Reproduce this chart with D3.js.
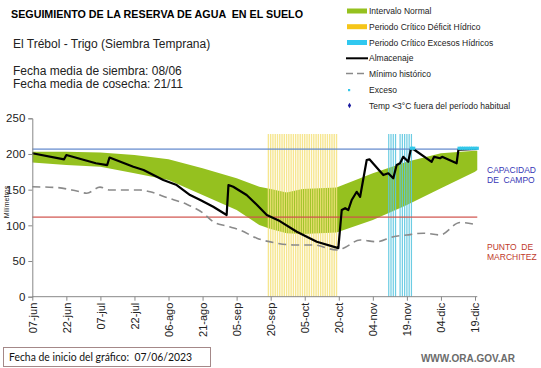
<!DOCTYPE html>
<html>
<head>
<meta charset="utf-8">
<script src="https://cdn.jsdelivr.net/npm/d3@7"></script>
<style>
  body { margin: 0; background: #fff; }
  svg { display: block; font-family: "Liberation Sans", Arial, sans-serif; }
  text { white-space: pre; }
</style>
</head>
<body>
<div id="chart"></div>
<script>
const width = 541;
const height = 368;

// days counted from 07/06/2023
const tickDays = [0, 15, 30, 45, 60, 75, 90, 105, 120, 135, 150, 165, 180, 195];
const tickLabels = ["07-jun", "22-jun", "07-jul", "22-jul", "06-ago", "21-ago", "05-sep",
  "20-sep", "05-oct", "20-oct", "04-nov", "19-nov", "04-dic", "19-dic"];

const normalDays  = [0, 15, 30, 45, 60, 75, 90, 100, 105, 112, 119, 134, 150, 165, 180, 195, 196];
const normalUpper = [203, 203, 202, 198.5, 192.5, 180, 166, 154, 151, 146, 151, 153, 173, 189, 201, 204.5, 204.5];
const normalLower = [188, 184.5, 182, 173, 163.5, 142.5, 121.5, 100.5, 95, 89, 88, 90, 107.5, 128.5, 152, 175, 177.5];

const storageDays = [0, 14, 15, 28, 33, 34, 44.5, 49, 57.7, 63.6, 69.5, 74, 79.7, 85.6, 86.4, 88.5,
  94.4, 99, 103.3, 109, 116.5, 125.3, 134.8, 136.3, 137.8, 139.2, 140.7, 142.9, 144.4, 147.3, 148.5,
  154.6, 156.8, 159, 160.5, 162, 163.4, 165.6, 166.7, 167.8, 175.9, 177, 179.6, 180.5, 186.9, 187.7, 196];
const storageValues = [201, 192.5, 198.5, 187, 184.5, 195, 182, 177.5, 163.5, 156.5, 142.5, 135.5, 126, 114.5, 156.5, 154,
  142.5, 128.5, 114.5, 106, 91, 77, 68, 121.5, 124, 121.5, 135.5, 147, 140, 191.5, 192.5,
  170.5, 173, 166, 184.5, 187, 196, 189, 206.5, 207, 189, 196, 194, 196, 187, 206, 207];

const minDays   = [0, 10.7, 19.6, 24, 29.8, 34.2, 47.4, 51.9, 59.2, 68, 75.3, 79.7, 85.6, 91.5, 98.9,
  107.7, 115, 123.8, 134.1, 137, 144.4, 151.7, 159, 164.9, 172.3, 179.6, 188.4, 196];
const minValues = [154, 153, 148, 145, 153.5, 149.5, 149.5, 147, 139, 129.5, 117, 105, 99, 93.5, 82,
  75, 72.5, 72.5, 65.5, 68, 79.5, 77, 84, 86.5, 89, 86.5, 104, 100.5];

const deficitDays = d3.range(104, 135);
const excessPeriodDays = [157, 158, 159, 160, 162, 163, 164, 165, 166, 167];
const periodTop = 228;

const excessDays   = [167, 168, 188, 189, 190, 191, 192, 193, 194, 195, 196];
const excessValues = [208, 208, 208, 208, 208, 208, 208, 208, 208, 208, 208];

const fieldCapacity = 207;
const wiltingPoint = 111;

const yTicks = [0, 50, 100, 150, 200, 250];

const svg = d3.select("#chart")
  .append("svg")
  .attr("width", width)
  .attr("height", height);

const x = d3.scaleLinear().domain([0, 195]).range([32.3, 475]);
const y = d3.scaleLinear().domain([0, 250]).range([296.7, 118.3]);
const xEnd = x(196);

// titles
svg.append("text").attr("x", 11).attr("y", 18)
  .attr("font-size", 10.5).attr("font-weight", "bold").attr("fill", "#000")
  .attr("textLength", 292).attr("lengthAdjust", "spacingAndGlyphs")
  .text("SEGUIMIENTO DE LA RESERVA DE AGUA  EN EL SUELO");

svg.append("text").attr("x", 13).attr("y", 48)
  .attr("font-size", 12).attr("fill", "#222")
  .text("El Trébol - Trigo (Siembra Temprana)");

svg.append("text").attr("x", 13).attr("y", 74.5)
  .attr("font-size", 12).attr("fill", "#222")
  .text("Fecha media de siembra: 08/06");
svg.append("text").attr("x", 13).attr("y", 88)
  .attr("font-size", 12).attr("fill", "#222")
  .text("Fecha media de cosecha: 21/11");

// normal band
const band = d3.area()
  .x((d, i) => x(normalDays[i]))
  .y0((d, i) => y(normalLower[i]))
  .y1((d, i) => y(normalUpper[i]));
svg.append("path")
  .attr("d", band(normalDays))
  .attr("fill", "#95c11f");

// critical periods
svg.append("g").selectAll("rect")
  .data(deficitDays)
  .join("rect")
  .attr("x", d => x(d) - 0.7)
  .attr("width", 1.4)
  .attr("y", y(periodTop))
  .attr("height", y(0) - y(periodTop))
  .attr("fill", "#f5e27c")
  .attr("opacity", 0.85);

svg.append("g").selectAll("rect")
  .data(excessPeriodDays)
  .join("rect")
  .attr("x", d => x(d) - 0.6)
  .attr("width", 1.2)
  .attr("y", y(periodTop))
  .attr("height", y(0) - y(periodTop))
  .attr("fill", "#5cc6e0")
  .attr("opacity", 0.9);

// reference lines
svg.append("rect")
  .attr("x", x(0)).attr("width", xEnd - x(0))
  .attr("y", Math.round(y(fieldCapacity)) - 0.5).attr("height", 1.2)
  .attr("fill", "#5f86cc");
svg.append("rect")
  .attr("x", x(0)).attr("width", xEnd - x(0))
  .attr("y", Math.round(y(wiltingPoint)) - 0.5).attr("height", 1.2)
  .attr("fill", "#d0504a");

// minimum line
const minLine = d3.line()
  .x((d, i) => x(minDays[i]))
  .y((d, i) => y(minValues[i]))
  .curve(d3.curveMonotoneX);
svg.append("path")
  .attr("d", minLine(minDays))
  .attr("fill", "none")
  .attr("stroke", "#8a8a8a")
  .attr("stroke-width", 1.6)
  .attr("stroke-dasharray", "8,5");

// storage line
const storageLine = d3.line()
  .x((d, i) => x(storageDays[i]))
  .y((d, i) => y(storageValues[i]));
svg.append("path")
  .attr("d", storageLine(storageDays))
  .attr("fill", "none")
  .attr("stroke", "#000")
  .attr("stroke-width", 2.2)
  .attr("stroke-linejoin", "round");

// excess markers
svg.append("g").selectAll("rect")
  .data(excessDays)
  .join("rect")
  .attr("x", d => x(d) - 1.6)
  .attr("y", (d, i) => y(excessValues[i]) - 1.6)
  .attr("width", 3.2)
  .attr("height", 3.2)
  .attr("fill", "#33c7ea");

// axes
const yAxis = svg.append("g")
  .attr("transform", `translate(${x(0)},0)`)
  .call(d3.axisLeft(y).tickValues(yTicks).tickSize(4).tickPadding(3));
yAxis.select(".domain").attr("stroke", "#888");
yAxis.selectAll(".tick line").attr("stroke", "#888");
yAxis.selectAll(".tick text")
  .attr("font-size", 11.5).attr("fill", "#222")
  .attr("font-family", "Liberation Sans, Arial, sans-serif");

const xAxis = svg.append("g")
  .attr("transform", `translate(0,${y(0)})`)
  .call(d3.axisBottom(x).tickValues(tickDays)
    .tickFormat((d, i) => tickLabels[i]).tickSize(4).tickSizeOuter(0));
xAxis.select(".domain").attr("d", `M${x(0)},0H${xEnd}`).attr("stroke", "#888");
xAxis.selectAll(".tick line").attr("stroke", "#888");
xAxis.selectAll(".tick text")
  .attr("font-size", 11).attr("fill", "#222")
  .attr("font-family", "Liberation Sans, Arial, sans-serif")
  .attr("text-anchor", "end")
  .attr("transform", "rotate(-90)")
  .attr("x", -6).attr("y", 0).attr("dy", "0.35em");

svg.append("text")
  .attr("transform", "translate(9,202) rotate(-90)")
  .attr("text-anchor", "middle")
  .attr("font-size", 7).attr("fill", "#222")
  .text("Milímetros");

// right notes
const blueNote = svg.append("text").attr("font-size", 8.5).attr("fill", "#3535b5");
blueNote.append("tspan").attr("x", 487).attr("y", 173).text("CAPACIDAD");
blueNote.append("tspan").attr("x", 487).attr("y", 182.5).text("DE  CAMPO");
const redNote = svg.append("text").attr("font-size", 8.5).attr("fill", "#c0392b");
redNote.append("tspan").attr("x", 487).attr("y", 250).text("PUNTO  DE");
redNote.append("tspan").attr("x", 487).attr("y", 259.5).text("MARCHITEZ");

// legend
const legendItems = [
  { label: "Intervalo Normal", kind: "swatch", color: "#95c11f" },
  { label: "Periodo Crítico Déficit Hídrico", kind: "swatch", color: "#f5c518" },
  { label: "Periodo Crítico Excesos Hídricos", kind: "swatch", color: "#30c8f0" },
  { label: "Almacenaje", kind: "line" },
  { label: "Mínimo histórico", kind: "dash" },
  { label: "Exceso", kind: "dot", color: "#33c7ea" },
  { label: "Temp <3°C fuera del período habitual", kind: "diamond", color: "#1a1aa0" }
];
const legendY = [11, 26.7, 42.5, 58.3, 73.5, 90, 105.5];

const legend = svg.append("g");
legendItems.forEach((item, i) => {
  const ly = legendY[i];
  if (item.kind === "swatch") {
    legend.append("rect").attr("x", 347).attr("y", ly - 2.5).attr("width", 20).attr("height", 5)
      .attr("fill", item.color);
  } else if (item.kind === "line") {
    legend.append("line").attr("x1", 346).attr("x2", 368).attr("y1", ly).attr("y2", ly)
      .attr("stroke", "#000").attr("stroke-width", 2);
  } else if (item.kind === "dash") {
    legend.append("line").attr("x1", 346).attr("x2", 368).attr("y1", ly).attr("y2", ly)
      .attr("stroke", "#8a8a8a").attr("stroke-width", 1.6).attr("stroke-dasharray", "7,4");
  } else if (item.kind === "dot") {
    legend.append("rect").attr("x", 348).attr("y", ly - 1).attr("width", 2.2).attr("height", 2.2)
      .attr("fill", item.color);
  } else {
    legend.append("path").attr("d", d3.symbol(d3.symbolDiamond, 9)())
      .attr("transform", `translate(349.5,${ly})`).attr("fill", item.color);
  }
  legend.append("text").attr("x", 369).attr("y", ly + 3)
    .attr("font-size", 8.5).attr("fill", "#222")
    .text(item.label);
});

// footer
svg.append("rect")
  .attr("x", 3.5).attr("y", 347.5).attr("width", 207).attr("height", 19)
  .attr("fill", "#fff").attr("stroke", "#a48888").attr("stroke-width", 1);
svg.append("text").attr("x", 9).attr("y", 361)
  .attr("font-family", "Lato, 'Open Sans', sans-serif")
  .attr("font-size", 11.5).attr("fill", "#111")
  .attr("textLength", 183).attr("lengthAdjust", "spacingAndGlyphs")
  .text("Fecha de inicio del gráfico:  07/06/2023");

svg.append("text").attr("x", 515).attr("y", 362)
  .attr("text-anchor", "end")
  .attr("font-size", 10).attr("font-weight", "bold").attr("fill", "#6b6b6b")
  .text("WWW.ORA.GOV.AR");
</script>
</body>
</html>
